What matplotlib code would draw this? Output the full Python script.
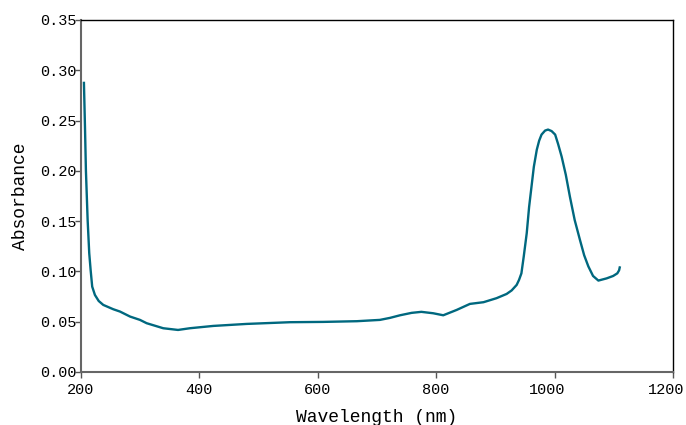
import matplotlib
matplotlib.use("Agg")
import matplotlib.pyplot as plt
from matplotlib.transforms import ScaledTranslation

# spectrum
wavelength = [205, 206.8, 208.4, 211.3, 214, 216.4, 219, 223.6, 230, 237.7,
              254.6, 265.9, 283, 299.7, 311, 339, 364, 384, 423.5, 480, 536,
              553, 609, 666, 705, 722, 739, 758.6, 775, 795, 812, 834.6, 857,
              880, 902, 919, 927.5, 936, 940, 944, 948, 953, 957, 961, 965,
              970, 974, 978, 984, 989, 995, 1001, 1006, 1012, 1019, 1026,
              1034, 1043, 1050, 1057, 1065, 1074, 1088, 1099, 1106, 1109,
              1110.5]
absorbance = [0.2886, 0.244, 0.20, 0.151, 0.118, 0.101, 0.0848, 0.0765,
              0.0705, 0.0666, 0.0623, 0.060, 0.055, 0.0517, 0.0484, 0.0434,
              0.0417, 0.0434, 0.0457, 0.0477, 0.049, 0.0494, 0.0497, 0.0504,
              0.0517, 0.0537, 0.0563, 0.0587, 0.0597, 0.0583, 0.0563, 0.0616,
              0.0676, 0.0693, 0.0733, 0.0775, 0.081, 0.0865, 0.0915, 0.098,
              0.115, 0.138, 0.164, 0.184, 0.204, 0.221, 0.230, 0.236, 0.240,
              0.241, 0.2395, 0.236, 0.2266, 0.214, 0.196, 0.174, 0.151, 0.131,
              0.116, 0.105, 0.0954, 0.0908, 0.093, 0.0954, 0.098, 0.101, 0.105]

xticks = [200, 400, 600, 800, 1000, 1200]
yticks = [0.00, 0.05, 0.10, 0.15, 0.20, 0.25, 0.30, 0.35]

plt.rcParams["font.family"] = ["Liberation Mono", "DejaVu Sans Mono"]

fig = plt.figure(figsize=(6.86, 4.25), dpi=100)
ax = fig.add_axes([0.118, 0.125, 0.863, 0.828])

ax.plot(wavelength, absorbance, color="#00687f", lw=1.7,
        solid_joinstyle="round", solid_capstyle="butt")

ax.set_xlim(200, 1200)
ax.set_ylim(0, 0.35)
ax.set_xticks(xticks)
ax.set_yticks(yticks)
ax.set_yticklabels(["%.2f" % v for v in yticks])
ax.tick_params(axis="both", labelsize=11, length=4, width=1, color="#555555")
ax.tick_params(axis="y", pad=-1)
ax.tick_params(axis="x", pad=4)

# the four-digit labels sit a little left of their ticks
shift = ScaledTranslation(-5 / 72, 0, fig.dpi_scale_trans)
for lab in ax.get_xticklabels()[4:]:
    lab.set_transform(lab.get_transform() + shift)

for s in ["left", "bottom"]:
    ax.spines[s].set_color("#666666")
    ax.spines[s].set_linewidth(1.5)
for s in ["top", "right"]:
    ax.spines[s].set_color("black")
    ax.spines[s].set_linewidth(1)

ax.set_xlabel("Wavelength (nm)", fontsize=13, labelpad=9)
ax.set_ylabel("Absorbance", fontsize=13, labelpad=8)

fig.savefig("out.png", dpi=100)
